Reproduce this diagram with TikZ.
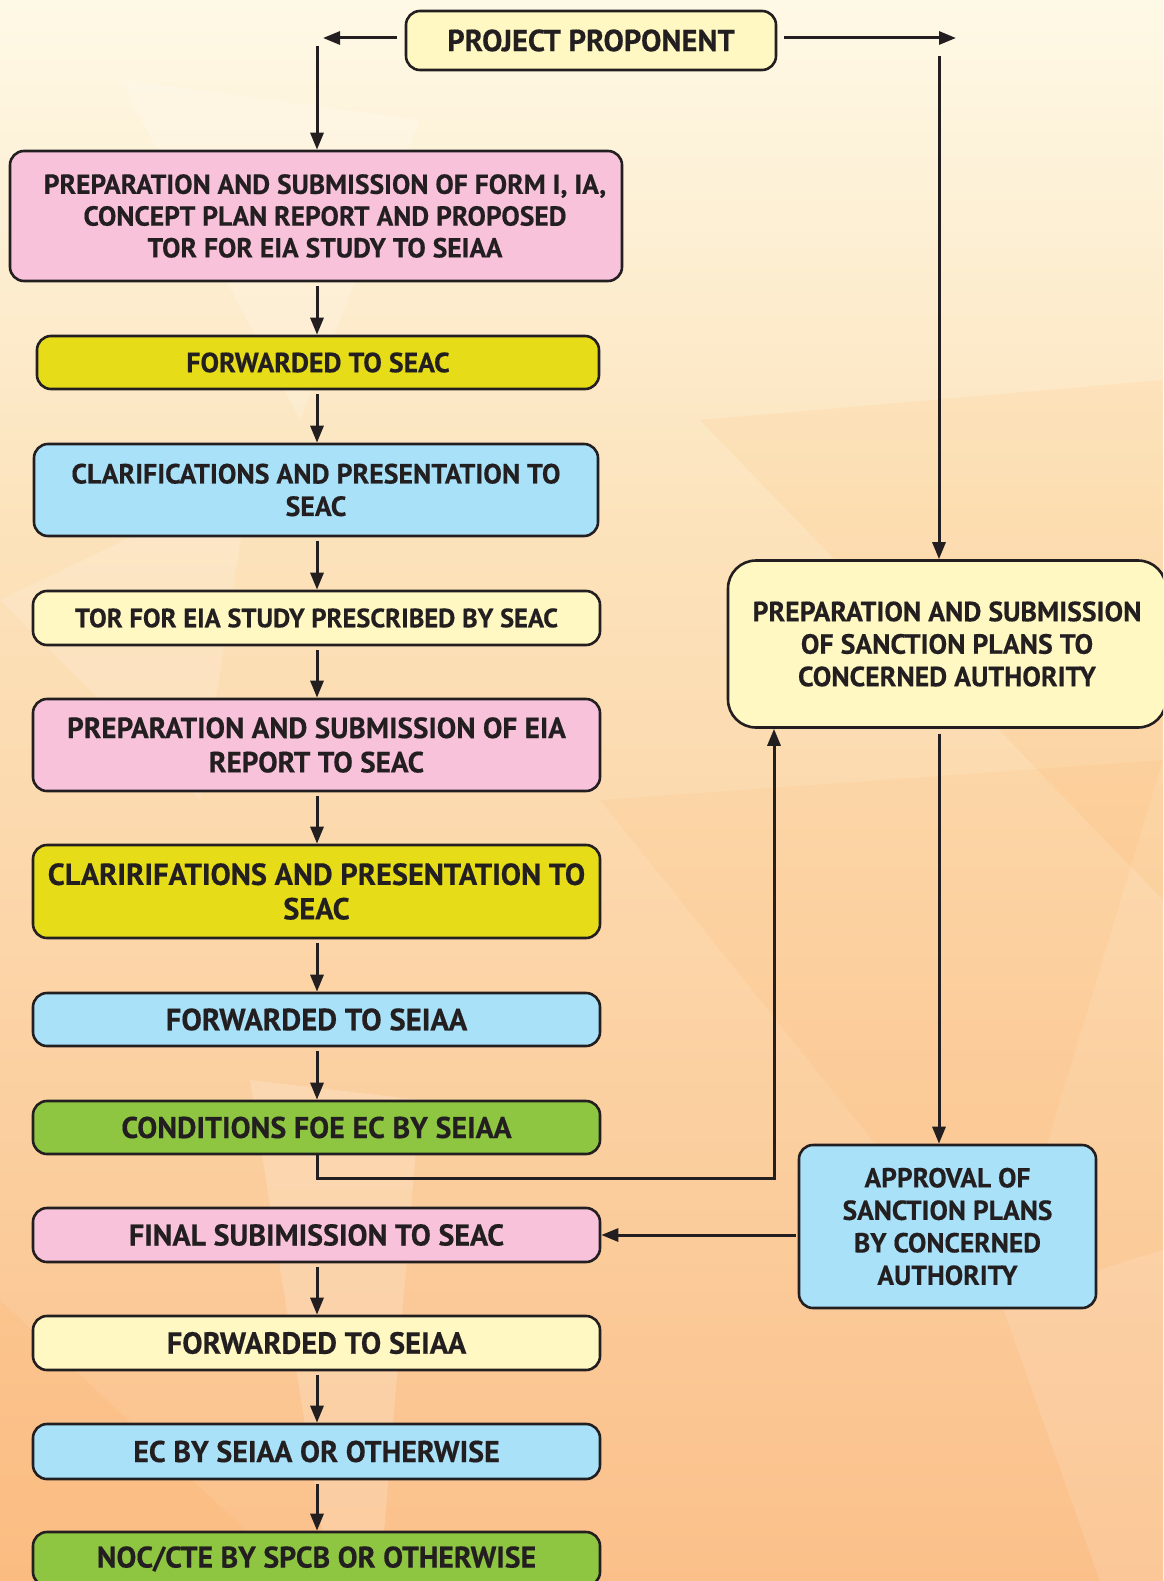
\documentclass[tikz,border=0pt]{standalone}
\usepackage{fontspec}
\setmainfont{PT Sans}[BoldFeatures={FakeBold=0.4}]
\usetikzlibrary{arrows.meta}
\definecolor{dk}{HTML}{231F20}
\definecolor{cyel}{HTML}{FFF8C2}
\definecolor{cpink}{HTML}{F7C2DA}
\definecolor{colive}{HTML}{E6DC18}
\definecolor{cblue}{HTML}{A9E1F9}
\definecolor{cgreen}{HTML}{8EC641}
\definecolor{bgtop}{HTML}{FEF9E6}
\definecolor{bgmid}{HTML}{FCE3BC}
\definecolor{bgbot}{HTML}{FBC08A}
\newcommand{\fsz}[2]{\fontsize{#1}{#2}\selectfont\bfseries}
\begin{document}
\begin{tikzpicture}[x=1pt,y=-1pt,
  box/.style={draw=dk, line width=2.6pt, rounded corners=14pt, align=center,
    inner sep=0pt, text=dk, font=\fsz{27}{32}},
  arr/.style={line width=3pt, draw=dk, -{Triangle[length=17pt,width=13pt]}},
  ln/.style={line width=3pt, draw=dk}]
\useasboundingbox (0,0) rectangle (1163,1581);
\clip (0,0) rectangle (1163,1581);
% background
\shade[top color=bgtop, bottom color=bgmid] (0,0) rectangle (1163,520);
\shade[top color=bgmid, bottom color=bgbot] (0,519) rectangle (1163,1581);
\fill[white, opacity=0.18] (120,80) -- (420,120) -- (300,420) -- cycle;
\fill[white, opacity=0.15] (0,600) -- (250,480) -- (200,800) -- cycle;
\fill[white, opacity=0.18] (250,1080) -- (420,1100) -- (380,1581) -- (330,1581) -- cycle;
\fill[orange, opacity=0.06] (700,420) -- (1163,380) -- (1163,900) -- cycle;
\fill[orange, opacity=0.06] (0,1300) -- (300,1581) -- (0,1581) -- cycle;
\fill[orange, opacity=0.05] (600,800) -- (1163,760) -- (1000,1300) -- cycle;
\fill[white, opacity=0.12] (1000,1300) -- (1163,1250) -- (1163,1581) -- (1100,1581) -- cycle;

% nodes
\node[box, fill=cyel, minimum width=370, minimum height=59, font=\fsz{30.5}{34}] (pp) at (591,40.5) {PROJECT PROPONENT};
\node[box, fill=cpink, minimum width=612, minimum height=130, font=\fsz{27.5}{31.8}] (b1) at (316,216)
  {\hspace*{18pt}PREPARATION AND SUBMISSION OF FORM I, IA,\\\hspace*{18pt}CONCEPT PLAN REPORT AND PROPOSED\\\hspace*{18pt}TOR FOR EIA STUDY TO SEIAA};
\node[box, fill=colive, minimum width=562, minimum height=53, font=\fsz{27.8}{32}] (b2) at (318,362.5) {FORWARDED TO SEAC};
\node[box, fill=cblue, minimum width=564, minimum height=92, font=\fsz{27.8}{32.5}] (b3) at (316,490)
  {CLARIFICATIONS AND PRESENTATION TO\\SEAC};
\node[box, fill=cyel, minimum width=567, minimum height=54, font=\fsz{26.5}{32}] (b4) at (316.5,618) {TOR FOR EIA STUDY PRESCRIBED BY SEAC};
\node[box, fill=cpink, minimum width=567, minimum height=92, font=\fsz{29.2}{34.3}] (b5) at (316.5,745)
  {PREPARATION AND SUBMISSION OF EIA\\REPORT TO SEAC};
\node[box, fill=colive, minimum width=567, minimum height=93, font=\fsz{30.4}{34.5}] (b6) at (316.5,891.5)
  {CLARIRIFATIONS AND PRESENTATION TO\\SEAC};
\node[box, fill=cblue, minimum width=567, minimum height=53, font=\fsz{30.7}{34}] (b7) at (316.5,1019.5) {FORWARDED TO SEIAA};
\node[box, fill=cgreen, minimum width=567, minimum height=53, font=\fsz{30}{34}] (b8) at (316.5,1127.5) {CONDITIONS FOE EC BY SEIAA};
\node[box, fill=cpink, minimum width=567, minimum height=54, font=\fsz{30}{34}] (b9) at (316.5,1235) {FINAL SUBIMISSION TO SEAC};
\node[box, fill=cyel, minimum width=567, minimum height=54, font=\fsz{30.5}{34}] (b10) at (316.5,1343) {FORWARDED TO SEIAA};
\node[box, fill=cblue, minimum width=567, minimum height=55, font=\fsz{30}{34}] (b11) at (316.5,1451.5) {EC BY SEIAA OR OTHERWISE};
\node[box, fill=cgreen, minimum width=567, minimum height=54, font=\fsz{29.8}{34}] (b12) at (316.5,1559) {NOC/CTE BY SPCB OR OTHERWISE};
\node[box, fill=cyel, minimum width=438, minimum height=167, rounded corners=28pt, font=\fsz{27.8}{32.5}] (r1) at (947,644)
  {PREPARATION AND SUBMISSION\\OF SANCTION PLANS TO\\CONCERNED AUTHORITY};
\node[box, fill=cblue, minimum width=297, minimum height=163, font=\fsz{27.5}{32.5}] (r2) at (947.5,1226.5)
  {APPROVAL OF\\SANCTION PLANS\\BY CONCERNED\\AUTHORITY};

% connectors
\coordinate (tl) at (323,38);
\coordinate (tr) at (956,38);
\coordinate (vl) at (317,46);
\coordinate (vr) at (939,56);
\coordinate (lp) at (317,1178);
\coordinate (lq) at (774,1178);
\draw[arr] (pp.west |- tl) ++(-8,0) -- (tl);
\draw[arr] (pp.east |- tr) ++(7,0) -- (tr);
\draw[arr] (vl) -- (vl |- b1.north);
\draw[arr] (vr) -- (vr |- r1.north);
\foreach \a/\b in {b1/b2,b2/b3,b3/b4,b4/b5,b5/b6,b6/b7,b7/b8,b9/b10,b10/b11,b11/b12}
  \draw[arr, shorten <=4pt] (\a.south -| vl) -- (\b.north -| vl);
\draw[arr] (b8.south -| lp) -- (lp) -- (lq) -- (lq |- r1.south);
\draw[arr, shorten <=5pt] (r1.south -| vr) -- (r2.north -| vr);
\draw[arr, shorten <=2pt] (r2.west |- b9.east) -- (b9.east);
\end{tikzpicture}
\end{document}
